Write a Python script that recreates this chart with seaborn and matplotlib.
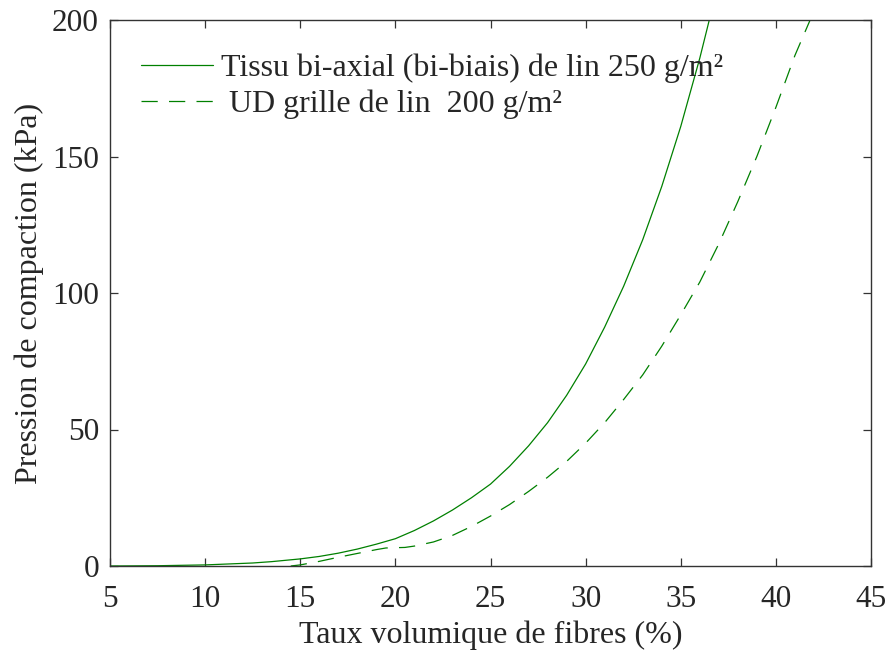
import numpy as np
import pandas as pd
import matplotlib
matplotlib.use('Agg')
import matplotlib.pyplot as plt
import seaborn as sns

# valeurs
taux_tissu = [5, 7.5, 10, 12.5, 13.5, 15, 16, 17, 18, 19, 20, 21, 22, 23, 24, 25, 26, 27, 28, 29,
              30, 31, 32, 33, 34, 35, 36, 36.5]
pression_tissu = [0, 0.1, 0.4, 1.1, 1.6, 2.6, 3.5, 4.7, 6.2, 8, 10, 13, 16.5, 20.5, 25, 30, 36.5, 44,
                  52.5, 62.5, 74, 87.5, 102.5, 119.5, 139, 161, 186, 200]

taux_ud = [14.5, 15, 16, 17, 18, 19, 19.5, 20, 20.5, 21, 22, 23, 24, 25, 26, 27, 28, 29, 30, 31,
           32, 33, 34, 35, 36, 37, 38, 39, 40, 41, 41.8]
pression_ud = [0, 0.4, 1.7, 3.2, 4.6, 6.0, 6.6, 6.7, 6.8, 7.3, 8.8, 11.2, 14.5, 18.3, 22.5, 27.3,
               32.5, 38.3, 45, 52.5, 61, 70, 80.5, 92, 104, 118, 133.5, 150, 168, 187, 200]

nom_tissu = 'Tissu bi-axial (bi-biais) de lin 250 g/m²'
nom_ud = ' UD grille de lin  200 g/m²'

df = pd.concat([
    pd.DataFrame({'x': taux_tissu, 'y': pression_tissu, 'serie': nom_tissu}),
    pd.DataFrame({'x': taux_ud, 'y': pression_ud, 'serie': nom_ud}),
])

sns.set_style('ticks')
plt.rcParams['font.family'] = ['Liberation Serif', 'DejaVu Serif']

fig, ax = plt.subplots(figsize=(8.9, 6.55), dpi=100)
fig.subplots_adjust(left=110 / 890, right=871 / 890, top=1 - 20 / 655, bottom=1 - 566 / 655)

sns.lineplot(data=df, x='x', y='y', hue='serie', style='serie',
             palette=['#008000', '#008000'], dashes=['', (13, 9)],
             linewidth=0.9, sort=False, estimator=None, ax=ax)

ax.set_xlim(5, 45)
ax.set_ylim(0, 200)
ax.set_xticks(range(5, 46, 5))
ax.set_yticks(range(0, 201, 50))
ax.set_xlabel('Taux volumique de fibres (%)', fontsize=23, labelpad=4)
ax.set_ylabel('Pression de compaction (kPa)', fontsize=23, labelpad=6)
ax.tick_params(direction='in', top=True, right=True, labelsize=22.5, length=5.5,
               color='#333333', width=0.9, pad=8)
ax.tick_params(axis='x', pad=14)
for s in ax.spines.values():
    s.set_color('#333333')
    s.set_linewidth(1.0)

leg = ax.legend(loc='upper left', frameon=False, fontsize=23, handlelength=2.25,
                handletextpad=0.25, borderpad=0, borderaxespad=0, labelspacing=0.2,
                bbox_to_anchor=(0.0407, 0.938))
leg.set_title(None)

fig.savefig('out.png', dpi=100)
